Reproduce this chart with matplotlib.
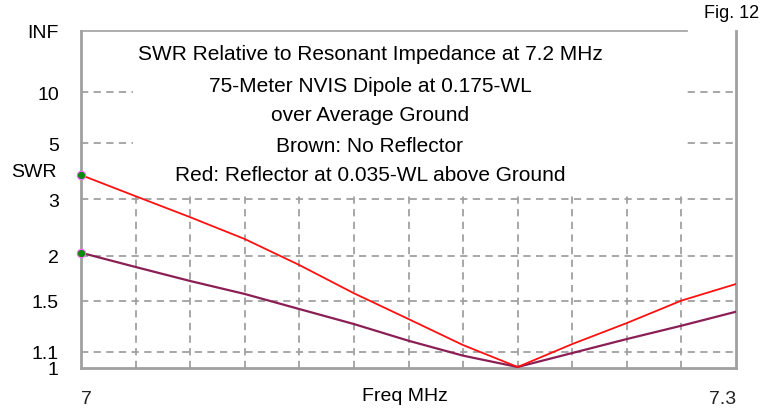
import numpy as np
import matplotlib.pyplot as plt

# frequency points (MHz) and SWR
freq = [7.0, 7.025, 7.05, 7.075, 7.1, 7.125, 7.15, 7.175, 7.2, 7.225, 7.25, 7.275, 7.3]
swr_red = [3.68, 3.08, 2.62, 2.24, 1.88, 1.57, 1.34, 1.146, 1.006, 1.153, 1.308, 1.50, 1.664]
swr_brown = [2.04, 1.856, 1.696, 1.563, 1.424, 1.30, 1.176, 1.076, 1.006, 1.093, 1.188, 1.287, 1.401]

ytick_vals = [1, 1.1, 1.5, 2, 3, 5, 10]
ytick_labels = ["1", "1.1", "1.5", "2", "3", "5", "10"]
title_lines = ["SWR Relative to Resonant Impedance at 7.2 MHz",
               "75-Meter NVIS Dipole at 0.175-WL",
               "over Average Ground",
               "Brown: No Reflector",
               "Red: Reflector at 0.035-WL above Ground"]

TOP = 1e9  # stands in for INF


def fwd(s):
    s = np.asarray(s, dtype=float)
    return (s - 1) / (s + 1)


def inv(r):
    r = np.clip(np.asarray(r, dtype=float), -0.999999, 0.999999999)
    return (1 + r) / (1 - r)


plt.rcParams['font.family'] = ['Liberation Sans', 'DejaVu Sans']
gray = '#a0a0a0'
lab_fs = 14

fig = plt.figure(figsize=(7.73, 4.10), dpi=100)
ax = fig.add_axes([81 / 773, 41 / 410, 655 / 773, 337 / 410])
ax.set_yscale('function', functions=(fwd, inv))
ax.set_xlim(7.0, 7.3)
ax.set_ylim(1, TOP)

# grid
for v in ytick_vals[1:]:
    ax.axhline(v, color=gray, lw=1.3, ls=(0, (4, 3)), zorder=1)
for f in freq[1:-1]:
    ax.axvline(f, color=gray, lw=1.3, ls=(0, (4, 3)), zorder=1)

# white block behind the caption
ax.add_patch(plt.Rectangle(((133 - 81) / 655, (369 - 196) / 337), (686 - 133) / 655, 164 / 337,
                           transform=ax.transAxes, facecolor='white', edgecolor='none', zorder=2))

ax.plot(freq, swr_brown, color='#8b1f55', lw=1.6, zorder=3)
ax.plot(freq, swr_red, color='#ff1010', lw=1.3, zorder=4)
for s in (swr_red[0], swr_brown[0]):
    ax.plot(freq[0], s, 'o', ms=6, mfc='#0a8a0a', mec='#ff66ff', mew=0.8, zorder=5, clip_on=False)

for sp in ax.spines.values():
    sp.set_color(gray)
    sp.set_linewidth(2)
ax.spines['top'].set_linewidth(1.2)
ax.spines['top'].set_bounds(7.0, 7.0 + (687 - 81) / 655 * 0.3)

ax.set_yticks(ytick_vals + [TOP])
ax.set_yticklabels(ytick_labels + ["INF"])
ax.set_xticks([7.0, 7.3])
ax.set_xticklabels(["7", "7.3"])
ax.tick_params(length=0, labelsize=lab_fs, colors='black')
ax.tick_params(axis='y', pad=16)
ax.tick_params(axis='x', pad=16)
xl = ax.get_xticklabels()
xl[0].set_ha('left')
xl[1].set_ha('right')
for lab in xl:
    lab.set_color('#222222')

ax.text(-0.106, (369 - 173) / 337, "SWR", transform=ax.transAxes, fontsize=lab_fs,
        ha='left', va='center')
ax.text((405 - 81) / 655, -28 / 337, "Freq MHz", transform=ax.transAxes, fontsize=lab_fs,
        ha='center', va='center')

y_px = [55, 87, 116, 146, 176]
for line, yp in zip(title_lines, y_px):
    ax.text((370 - 81) / 655, (369 - yp) / 337, line, transform=ax.transAxes,
            fontsize=15, ha='center', va='center', zorder=6)

fig.text(732 / 773, 1 - 14 / 410, "Fig. 12", fontsize=13, ha='center', va='center')

fig.savefig('out.png', dpi=100)
